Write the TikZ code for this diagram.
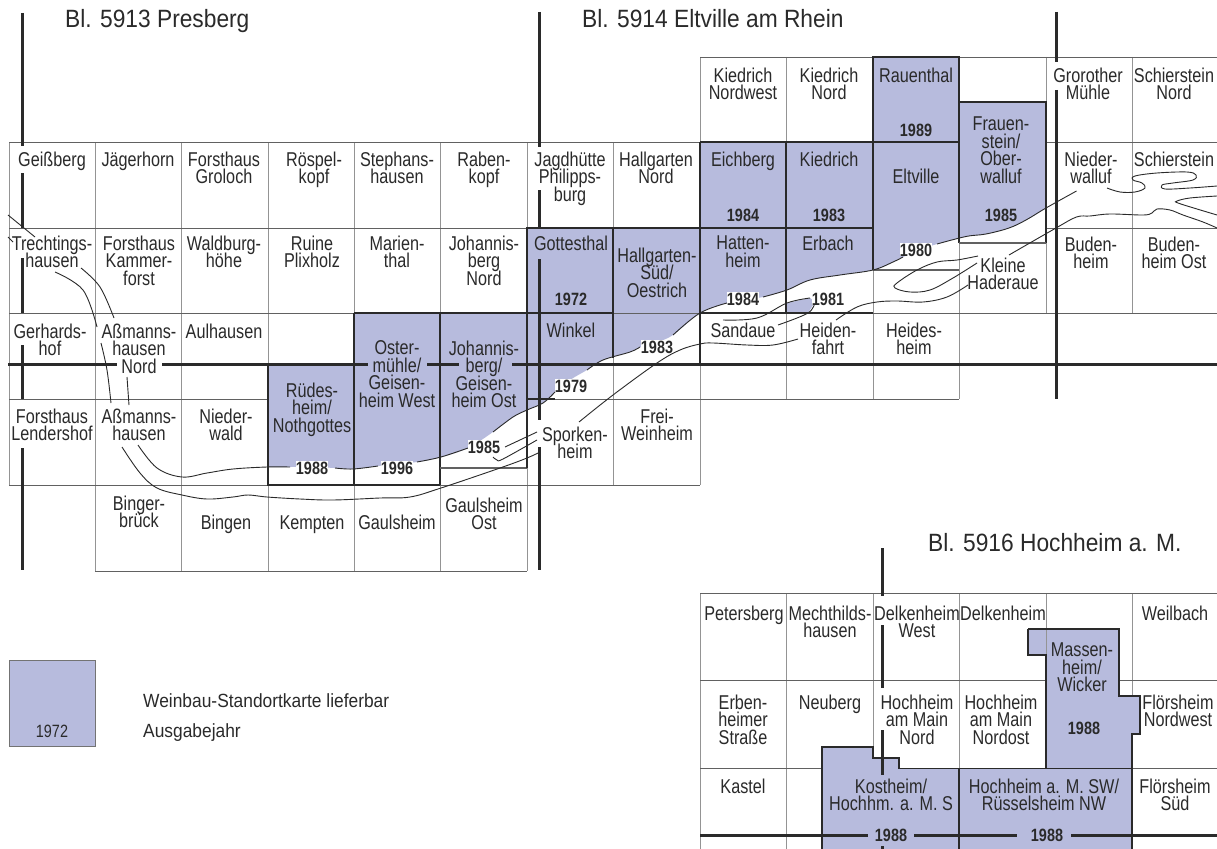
\documentclass[tikz,border=0pt]{standalone}
\usepackage{fontspec}
\setmainfont[FakeStretch=0.81]{Liberation Sans}
\newfontfamily\widefont[FakeStretch=0.91]{Liberation Sans}
\definecolor{wein}{HTML}{B7BBDD}
\definecolor{ink}{HTML}{2A2A2A}
\newcounter{nn}
\newcommand{\lb}[4][]{\stepcounter{nn}\node[lab,#1] (n\thenn) at ({#2},{#3-14.5}) {#4};}
\newcommand{\yl}[4][]{\stepcounter{nn}\node[yearlab,#1] (n\thenn) at ({#2},{#3-13}) {#4};}
\newcommand{\ttl}[3]{\stepcounter{nn}\node[titlelab] (n\thenn) at ({#1},{#2}) {#3};}
\newcommand{\seg}[1]{\draw[river] plot[smooth,tension=0.6] coordinates {#1};}
\tikzset{
 lab/.style={anchor=north,inner sep=0pt,align=center,text=ink,font=\fontsize{20}{17.6}\selectfont,execute at begin node={\lineskiplimit=-20pt\relax\rule{0pt}{14.5pt}}},
 yearlab/.style={anchor=north,inner sep=0pt,align=center,text=ink,font=\fontsize{17.8}{17}\selectfont\bfseries,execute at begin node={\rule{0pt}{13pt}}},
 halo/.style={fill=white},
 small/.style={font=\fontsize{17.8}{17}\selectfont},
 titlelab/.style={anchor=base west,inner sep=0pt,text=ink,font=\widefont\fontsize{25}{28}\selectfont},
 leglab/.style={anchor=base west,inner sep=0pt,text=ink,font=\widefont\fontsize{19.1}{21}\selectfont},
 gridv/.style={draw=black!42,line width=1pt},
 gridh/.style={draw=black!62,line width=0.9pt},
 box/.style={draw=ink,line width=1.3pt},
 boxg/.style={draw=black!62,line width=1.6pt},
 heavy/.style={draw=ink,line width=3pt},
 river/.style={draw=ink,line width=0.9pt},
 areafill/.style={fill=wein,draw=none}
}
\begin{document}
\begin{tikzpicture}[x=1pt,y=-1pt]
\useasboundingbox (0,0) rectangle (1217,848);
\fill[white] (0,0) rectangle (1217,848);
% wine areas
\fill[areafill] plot[smooth,tension=0.6] coordinates {(268,467) (290,467) (312,467) (335,468) (353,469) (378,466) (417,462) (441,457) (468,448) (493,432) (513,417) (527,410) (543,403) (555,392) (570,380) (587,370) (603,360) (630,352) (640,347) (657,342) (673,335) (700,313) (727,303) (743,300) (763,297) (787,290) (810,280) (840,275) (873,270) (893,262) (903,257) (920,250) (937,244) (966,236.5) (986,234) (1009,228) (1026,220) (1046,208)} -- (1046,102) -- (959,102) -- (959,57) -- (873,57) -- (873,142) -- (700,142) -- (700,228) -- (527,228) -- (527,313) -- (354,313) -- (354,364) -- (268,364) -- cycle;
\fill[areafill] (787,303) -- (810,298) -- (815,302) -- (808,313) -- (787,313) -- cycle;
\fill[areafill] (1028,629) -- (1119,629) -- (1119,696) -- (1140,696) -- (1140,734) -- (1132,734) -- (1132,852) -- (822,852) -- (822,747) -- (873,747) -- (873,758) -- (899,758) -- (899,768.6) -- (1046,768.6) -- (1046,655) -- (1028,655) -- cycle;
\fill[areafill,draw=black!55,line width=0.9pt] (9,660) rectangle (95,746);
% grid verticals
\foreach \x/\a/\b in {9/142/485,95/142/571,181/142/571,268/142/364,268/485/571,354/142/313,354/485/571,440/142/313,440/485/571,527/142/228,527/468/571,613/142/228,613/358/485,700/57/142,700/364/485,786/57/142,786/313/399,873/270/399,959/243/399,1046/57/102,1046/243/313,1132/57/313,700/593/852,786/593/852,873/593/747,959/593/768.6,1046/593/655,1132/593/696}
  \draw[gridv] (\x,\a) -- (\x,\b);
% grid horizontals
\foreach \y/\a/\b in {57/700/873,57/959/1217,142/9/700,142/1046/1217,228/9/527,228/1046/1217,313/9/354,313/613/700,313/873/1217,399/9/268,399/527/959,485/9/700,571/95/527,593/700/1217,680/700/1046,680/1119/1217,768.6/700/822,768.6/1132/1217}
  \draw[gridh] (\a,\y) -- (\b,\y);
% dark outlines
\draw[box] (268,364) -- (268,485) -- (440,485) (354,313) -- (354,485) (354,313) -- (613,313) (440,313) -- (440,485);
\draw[boxg] (440,468) -- (527,468);
\draw[box] (527,468) -- (527,228) -- (873,228) (613,228) -- (613,358) (700,142) -- (700,364) (700,313) -- (873,313) (786,142) -- (786,313) (700,142) -- (959,142);
\draw[box] (873,270) -- (873,57) -- (959,57) -- (959,243) (959,102) -- (1046,102) -- (1046,243);
\draw[boxg] (959,243) -- (1046,243) (873,270) -- (959,270);
\draw[box] (527,399) -- (555,399);
\draw[box] (1028,629) -- (1119,629) -- (1119,696) -- (1140,696) -- (1140,734) -- (1132,734) -- (1132,852) (822,852) -- (822,747) -- (873,747) -- (873,758) -- (899,758) -- (899,768.6) -- (1132,768.6) (1046,768.6) -- (1046,655) -- (1028,655) -- (1028,629) (959,768.6) -- (959,852);
% heavy sheet lines
\draw[heavy] (22,13) -- (22,146) (22,173) -- (22,228) (22,258) -- (22,313) (22,345) -- (22,399) (22,448) -- (22,570);
\draw[heavy] (539,12) -- (539,147) (539,190) -- (539,228) (539,259) -- (539,420) (539,447) -- (539,570);
\draw[heavy] (1056,12) -- (1056,62) (1056,90) -- (1056,399);
\draw[heavy] (8,364) -- (117,364) (162,364) -- (368,364) (427,364) -- (459,364) (512,364) -- (1217,364);
\draw[heavy] (882,548) -- (882,596) (882,625) -- (882,688) (882,730) -- (882,775) (882,846) -- (882,852);
\draw[heavy] (700,835) -- (868,835) (914,835) -- (1017,835) (1071,835) -- (1217,835);
% river lines
\seg{(8,215) (35,237)}
\seg{(8,237) (13,242)}
\seg{(55,272) (83,290) (97,327)}
\seg{(81,268) (100,287) (114,318)}
\seg{(101,343) (107,370) (111,403)}
\seg{(127,377) (129,405)}
\seg{(138,445) (157,468) (182,477) (207,473) (233,469) (267,467) (290,467)}
\seg{(335,468) (353,469) (378,466)}
\seg{(417,462) (441,457) (468,448)}
\seg{(493,432) (513,417) (527,410) (543,403) (555,392)}
\seg{(587,370) (603,360) (630,352) (640,347)}
\seg{(673,335) (700,313) (727,303)}
\seg{(763,297) (787,290) (810,280) (840,275) (873,270) (893,262) (903,257)}
\seg{(937,244) (966,236.5) (986,234) (1009,228) (1026,220) (1046,208) (1076.5,191)}
\seg{(122,447) (140,473) (157,488) (182,495) (207,499) (233,497) (248,495) (267,497) (300,499) (333,500) (380,498) (410,497) (441,488) (500,468) (527,458) (540,452)}
\seg{(505,447) (537,432)}
\seg{(493,457) (497,460) (503,459) (537,440)}
\seg{(579,422) (613,395) (657,363) (680,350) (700,344) (713,343) (747,345) (773,345) (798,339)}
\seg{(723,320) (757,318) (787,303) (810,298)}
\seg{(778,325) (808,313) (815,302)}
\seg{(836,320) (857,307) (877,302) (897,301) (923,302) (947,297) (968,285)}
\seg{(978,256) (957,260) (937,262) (917,270) (897,283) (895,288) (910,292) (930,290) (953,278) (977,263)}
\seg{(1009,255) (1056,228) (1076.5,217) (1090,216) (1110,214) (1143,215) (1152,213) (1157,209) (1170,210) (1183,215) (1203,222) (1217,228)}
\seg{(1107,188) (1120,192) (1135,192) (1145,188) (1142,183) (1133,180) (1135,176) (1157,173) (1187,172) (1196,175) (1193,180) (1173,183) (1162,185) (1165,189) (1190,188) (1217,186)}
\seg{(1217,196) (1190,198) (1177,201) (1178,203) (1197,209) (1217,215)}
% titles
\ttl{65}{28}{Bl. 5913 Presberg}
\ttl{582}{28}{Bl. 5914 Eltville am Rhein}
\ttl{928}{551}{Bl. 5916 Hochheim a. M.}
% top row
\lb{743}{82}{Kiedrich\\Nordwest}
\lb{829}{82}{Kiedrich\\Nord}
\lb{916}{82}{Rauenthal}
\lb{1088}{82}{Grorother\\Mühle}
\lb{1174}{82}{Schierstein\\Nord}
\yl{916}{136}{1989}
% row 142
\lb{52}{166}{Geißberg}
\lb{138}{166}{Jägerhorn}
\lb{224}{166}{Forsthaus\\Groloch}
\lb{314}{166}{Röspel-\\kopf}
\lb{397}{166}{Stephans-\\hausen}
\lb{484}{166}{Raben-\\kopf}
\lb{570}{166}{Jagdhütte\\Philipps-\\burg}
\lb{656}{166}{Hallgarten\\Nord}
\lb{743}{166}{Eichberg}
\lb{829}{166}{Kiedrich}
\lb{916}{183}{Eltville}
\lb{1001}{131}{Frauen-\\stein/\\Ober-\\walluf}
\lb{1091}{166}{Nieder-\\walluf}
\lb{1174}{166}{Schierstein}
\yl{743}{221}{1984}
\yl{829}{221}{1983}
\yl{1001}{221}{1985}
% row 228
\lb{52}{250}{Trechtings-\\hausen}
\lb{139}{250}{Forsthaus\\Kammer-\\forst}
\lb{224}{250}{Waldburg-\\höhe}
\lb{312}{250}{Ruine\\Plixholz}
\lb{397}{250}{Marien-\\thal}
\lb{484}{250}{Johannis-\\berg\\Nord}
\lb{571}{250}{Gottesthal}
\lb{657}{262}{Hallgarten-\\Süd/\\Oestrich}
\lb{743}{250}{Hatten-\\heim}
\lb{828}{250}{Erbach}
\lb{1091}{251}{Buden-\\heim}
\lb{1174}{251}{Buden-\\heim Ost}
\lb{1003}{272}{Kleine\\Haderaue}
\yl{571}{305}{1972}
\yl[halo]{743}{305}{1984}
\yl[halo]{828}{305}{1981}
\yl[halo]{916}{256}{1980}
\yl[halo]{657}{353}{1983}
% row 313
\lb{50}{338}{Gerhards-\\hof}
\lb{139}{338}{Aßmanns-\\hausen\\Nord}
\lb{224}{338}{Aulhausen}
\lb{397}{355}{Oster-\\mühle/\\Geisen-\\heim West}
\lb{484}{355}{Johannis-\\berg/\\Geisen-\\heim Ost}
\lb{571}{337}{Winkel}
\lb{743}{337}{Sandaue}
\lb{828}{337}{Heiden-\\fahrt}
\lb{914}{337}{Heides-\\heim}
\lb{312}{397}{Rüdes-\\heim/\\Nothgottes}
% row 399
\lb{52}{423}{Forsthaus\\Lendershof}
\lb{139}{423}{Aßmanns-\\hausen}
\lb{226}{423}{Nieder-\\wald}
\lb{575}{441}{Sporken-\\heim}
\lb{657}{423}{Frei-\\Weinheim}
\yl[halo]{312}{474}{1988}
\yl[halo]{397}{474}{1996}
\yl[halo]{484}{453}{1985}
\yl[halo]{571}{392}{1979}
% row 485
\lb{139}{510}{Binger-\\brück}
\lb{226}{529}{Bingen}
\lb{312}{529}{Kempten}
\lb{397}{529}{Gaulsheim}
\lb{484}{512}{Gaulsheim\\Ost}
% lower block
\lb{744}{620}{Petersberg}
\lb{830}{620}{Mechthilds-\\hausen}
\lb{917}{620}{Delkenheim\\West}
\lb{1003}{620}{Delkenheim}
\lb{1175}{620}{Weilbach}
\lb{1082}{657}{Massen-\\heim/\\Wicker}
\yl{1084}{734}{1988}
\lb{743}{709}{Erben-\\heimer\\Straße}
\lb{830}{709}{Neuberg}
\lb{917}{709}{Hochheim\\am Main\\Nord}
\lb{1001}{709}{Hochheim\\am Main\\Nordost}
\lb{1178}{709}{Flörsheim\\Nordwest}
\lb{743}{793}{Kastel}
\lb{891}{793}{Kostheim/\\Hochhm. a. M. S}
\lb{1044}{793}{Hochheim a. M. SW/\\Rüsselsheim NW}
\lb{1175}{793}{Flörsheim\\Süd}
\yl{891}{841.5}{1988}
\yl{1047}{841.5}{1988}
% legend
\lb[small]{52}{737}{1972}
\node[leglab] (legA) at (143,707) {Weinbau-Standortkarte lieferbar};
\node[leglab] (legB) at (143,737) {Ausgabejahr};
\end{tikzpicture}
\end{document}
